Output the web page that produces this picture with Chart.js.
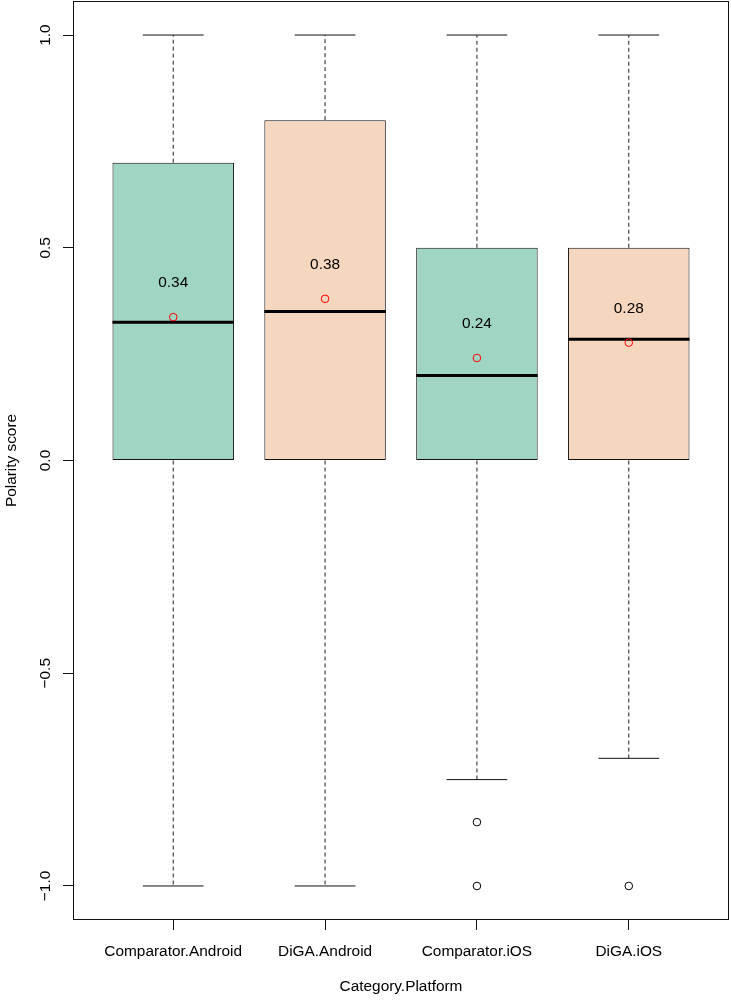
<!DOCTYPE html>
<html>
<head>
<meta charset="utf-8">
<script src="https://cdn.jsdelivr.net/npm/chart.js@4/dist/chart.umd.min.js"></script>
<style>
  html, body { margin: 0; padding: 0; background: #fff; }
  #wrap { width: 731px; height: 1000px; position: relative; }
</style>
</head>
<body>
<div id="wrap"><canvas id="c" width="731" height="1000"></canvas></div>
<script>
// ---- data ----
const categories = ["Comparator.Android", "DiGA.Android", "Comparator.iOS", "DiGA.iOS"];
const whiskerLow = [-1.0, -1.0, -0.75, -0.70];
const q1 = [0.0, 0.0, 0.0, 0.0];
const medians = [0.325, 0.35, 0.20, 0.285];
const q3 = [0.70, 0.80, 0.50, 0.50];
const whiskerHigh = [1.0, 1.0, 1.0, 1.0];
const means = [0.337, 0.38, 0.241, 0.277];
const meanLabels = ["0.34", "0.38", "0.24", "0.28"];
const outliers = [[], [], [-0.85, -1.0], [-1.0]];
const yTicks = [-1.0, -0.5, 0.0, 0.5, 1.0];
const yTickLabels = ["\u22121.0", "\u22120.5", "0.0", "0.5", "1.0"];
const boxColors = ["#a0d5c4", "#f5d6be", "#a0d5c4", "#f5d6be"];
const xTitle = "Category.Platform";
const yTitle = "Polarity score";

// ---- derived datasets ----
const pos = categories.map((_, i) => i + 1);
const halfBox = 0.4, halfCap = 0.2;
const boxData = pos.map((x, i) => ({ x: x, y: [q1[i], q3[i]] }));
const whiskerData = [];
pos.forEach((x, i) => {
  whiskerData.push({ x: x, y: q3[i] }, { x: x, y: whiskerHigh[i] }, { x: x, y: null });
  whiskerData.push({ x: x, y: q1[i] }, { x: x, y: whiskerLow[i] }, { x: x, y: null });
});
const capData = [];
pos.forEach((x, i) => {
  capData.push({ x: x - halfCap, y: whiskerHigh[i] }, { x: x + halfCap, y: whiskerHigh[i] }, { x: x, y: null });
  capData.push({ x: x - halfCap, y: whiskerLow[i] }, { x: x + halfCap, y: whiskerLow[i] }, { x: x, y: null });
});
const medianData = [];
pos.forEach((x, i) => {
  medianData.push({ x: x - halfBox, y: medians[i] }, { x: x + halfBox, y: medians[i] }, { x: x, y: null });
});
const meanData = pos.map((x, i) => ({ x: x, y: means[i] }));
const outlierData = [];
pos.forEach((x, i) => outliers[i].forEach(v => outlierData.push({ x: x, y: v })));

const FONT = "'Liberation Sans', Arial, Helvetica, sans-serif";
const FS = 15.4;

const rPlugin = {
  id: 'rDecor',
  afterDraw(chart) {
    const ctx = chart.ctx, a = chart.chartArea;
    const xs = chart.scales.x, ys = chart.scales.y;
    ctx.save();
    // box around plot
    ctx.strokeStyle = '#111';
    ctx.lineWidth = 1;
    ctx.strokeRect(Math.round(a.left) + 0.5, Math.round(a.top) + 0.5,
                   Math.round(a.right - a.left) - 1, Math.round(a.bottom - a.top) - 1);
    // mean labels
    ctx.fillStyle = '#000';
    ctx.font = FS + 'px ' + FONT;
    ctx.textAlign = 'center';
    ctx.textBaseline = 'middle';
    pos.forEach((x, i) => {
      ctx.fillText(meanLabels[i], xs.getPixelForValue(x), ys.getPixelForValue(means[i] + 0.08));
    });
    // y tick labels, rotated
    yTicks.forEach((v, i) => {
      ctx.save();
      ctx.translate(46, ys.getPixelForValue(v));
      ctx.rotate(-Math.PI / 2);
      ctx.fillText(yTickLabels[i], 0, 0);
      ctx.restore();
    });
    // y title
    ctx.save();
    ctx.translate(12, (a.top + a.bottom) / 2);
    ctx.rotate(-Math.PI / 2);
    ctx.fillText(yTitle, 0, 0);
    ctx.restore();
    // x title
    ctx.fillText(xTitle, (a.left + a.right) / 2, 987);
    ctx.restore();
  }
};

new Chart(document.getElementById('c'), {
  type: 'bar',
  data: {
    datasets: [
      { type: 'scatter', data: meanData, pointStyle: 'circle', pointRadius: 3.8,
        pointBorderColor: '#ff0000', pointBackgroundColor: 'rgba(0,0,0,0)', pointBorderWidth: 1, order: 1 },
      { type: 'line', data: medianData, borderColor: '#000', borderWidth: 3, pointRadius: 0,
        spanGaps: false, fill: false, order: 2 },
      { type: 'scatter', data: outlierData, pointStyle: 'circle', pointRadius: 3.8,
        pointBorderColor: '#000', pointBackgroundColor: 'rgba(0,0,0,0)', pointBorderWidth: 1, order: 3 },
      { type: 'bar', data: boxData, backgroundColor: boxColors, borderColor: '#111', borderWidth: 1,
        borderSkipped: false, barPercentage: 0.8, categoryPercentage: 1.0, order: 4 },
      { type: 'line', data: capData, borderColor: '#111', borderWidth: 1, pointRadius: 0,
        spanGaps: false, fill: false, order: 5 },
      { type: 'line', data: whiskerData, borderColor: '#222', borderWidth: 1, borderDash: [4, 3],
        pointRadius: 0, spanGaps: false, fill: false, order: 6 }
    ]
  },
  options: {
    responsive: false,
    animation: false,
    events: [],
    layout: { autoPadding: false, padding: { left: 0, right: 2, top: 1, bottom: 0 } },
    plugins: { legend: { display: false }, tooltip: { enabled: false } },
    scales: {
      x: {
        type: 'linear', min: 0.34, max: 4.66, offset: false,
        afterBuildTicks: s => { s.ticks = pos.map(v => ({ value: v })); },
        afterFit: s => { s.height = 80; },
        grid: { offset: false, drawOnChartArea: false, drawTicks: true, tickLength: 10, color: '#111', tickWidth: 1 },
        border: { display: false },
        ticks: { autoSkip: false, maxRotation: 0, minRotation: 0, padding: 13, color: '#000',
                 font: { family: FONT, size: FS },
                 callback: v => categories[v - 1] || '' }
      },
      y: {
        type: 'linear', min: -1.08, max: 1.08,
        afterBuildTicks: s => { s.ticks = yTicks.map(v => ({ value: v })); },
        afterFit: s => { s.width = 73; },
        grid: { drawOnChartArea: false, drawTicks: true, tickLength: 10, color: '#111', tickWidth: 1 },
        border: { display: false },
        ticks: { display: false }
      }
    }
  },
  plugins: [rPlugin]
});
</script>
</body>
</html>
